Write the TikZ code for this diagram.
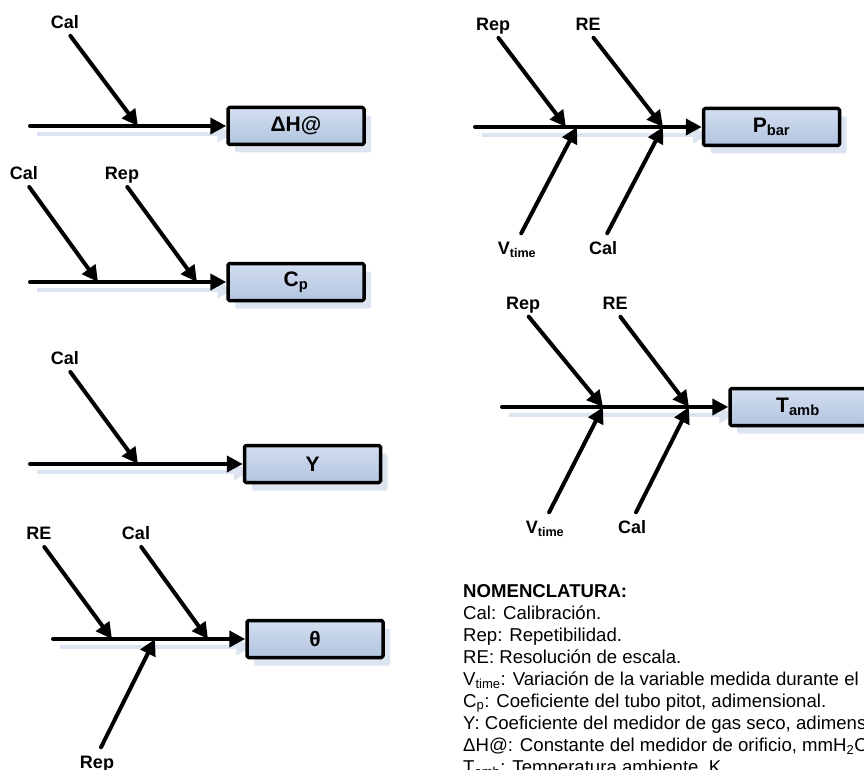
\documentclass[tikz,border=0pt]{standalone}
\usepackage{fontspec}
\setmainfont{Liberation Sans}
\usetikzlibrary{arrows.meta,shadows,backgrounds}

\definecolor{boxtop}{HTML}{D3DEF0}
\definecolor{boxbot}{HTML}{B2C4E0}
\definecolor{boxshade}{HTML}{DCE4F1}

\tikzset{
  effect/.style={draw=black, line width=3.5pt, rounded corners=1.5pt,
    minimum width=136pt, minimum height=37pt, inner sep=0pt,
    top color=boxtop, bottom color=boxbot,
    font=\fontsize{21}{24}\selectfont\bfseries,
    drop shadow={shadow xshift=7pt, shadow yshift=-8pt, fill=boxshade, opacity=1}},
  cause/.style={font=\fontsize{18}{22}\selectfont\bfseries, inner sep=0pt,
    text height=13pt, text depth=0pt},
  spine/.style={line width=4pt, -{Triangle[length=16pt,width=16pt]}},
  spineshade/.style={spine, color=boxshade},
  branch/.style={line width=4pt, shorten <=9pt, -{Triangle[length=16pt,width=16pt]}},
  nomen/.style={anchor=base west, inner sep=0pt, font=\fontsize{18.6}{22}\selectfont}
}

\begin{document}
\begin{tikzpicture}[line cap=round, line join=round, x=1pt, y=-1pt]
  \clip (0,0) rectangle (864,770);

  % Delta H@
  \node[effect] (dH) at (296,126) {ΔH@};
  \coordinate (dHs) at (30,126);
  \coordinate (dHa) at (138,126);
  \node[cause] (dHcal) at (65,22) {Cal};
  \draw[spine] (dHs) -- (dH);
  \draw[branch] (dHcal.south) -- (dHa);

  % Cp
  \node[effect] (cp) at (296,282) {C\textsubscript{p}};
  \coordinate (cps) at (30,282);
  \coordinate (cpa) at (98,282);
  \coordinate (cpb) at (197,282);
  \node[cause] (cpcal) at (24,173) {Cal};
  \node[cause] (cprep) at (122,173) {Rep};
  \draw[spine] (cps) -- (cp);
  \draw[branch] (cpcal.south) -- (cpa);
  \draw[branch] (cprep.south) -- (cpb);

  % Y
  \node[effect] (yy) at (312.5,464) {Y};
  \coordinate (yys) at (30,464);
  \coordinate (yya) at (138,464);
  \node[cause] (yycal) at (65,358) {Cal};
  \draw[spine] (yys) -- (yy);
  \draw[branch] (yycal.south) -- (yya);

  % theta
  \node[effect] (th) at (315,639) {θ};
  \coordinate (ths) at (53,639);
  \coordinate (tha) at (112,639);
  \coordinate (thb) at (208,639);
  \coordinate (thc) at (155,639);
  \node[cause] (thre) at (39,533) {RE};
  \node[cause] (thcal) at (136,533) {Cal};
  \node[cause] (threp) at (97,762) {Rep};
  \draw[spine] (ths) -- (th);
  \draw[branch] (thre.south) -- (tha);
  \draw[branch] (thcal.south) -- (thb);
  \draw[branch] (threp.north) -- (thc);

  % Pbar
  \node[effect] (pb) at (771.5,127) {P\textsubscript{bar}};
  \coordinate (pbs) at (475,127);
  \coordinate (pba) at (566,127);
  \coordinate (pbb) at (663,127);
  \coordinate (pbc) at (577,127);
  \node[cause] (pbrep) at (493,24) {Rep};
  \node[cause] (pbre) at (588,24) {RE};
  \node[cause] (pbvt) at (517,248) {V\textsubscript{time}};
  \node[cause] (pbcal) at (603,248) {Cal};
  \draw[spine] (pbs) -- (pb);
  \draw[branch] (pbrep.south) -- (pba);
  \draw[branch] (pbre.south) -- (pbb);
  \draw[branch] (pbvt.north) -- (pbc);
  \draw[branch] (pbcal.north) -- (pbb);

  % Tamb
  \node[effect] (ta) at (798,407) {T\textsubscript{amb}};
  \coordinate (tas) at (502,407);
  \coordinate (taa) at (603,407);
  \coordinate (tab) at (689,407);
  \node[cause] (tarep) at (523,303) {Rep};
  \node[cause] (tare) at (615,303) {RE};
  \node[cause] (tavt) at (545,527) {V\textsubscript{time}};
  \node[cause] (tacal) at (632,527) {Cal};
  \draw[spine] (tas) -- (ta);
  \draw[branch] (tarep.south) -- (taa);
  \draw[branch] (tare.south) -- (tab);
  \draw[branch] (tavt.north) -- (taa);
  \draw[branch] (tacal.north) -- (tab);

  % shadows of the spines
  \begin{scope}[on background layer]
    \draw[spineshade] ([shift={(7,8)}]dHs) -- ([shift={(7,8)}]dH.west);
    \draw[spineshade] ([shift={(7,8)}]cps) -- ([shift={(7,8)}]cp.west);
    \draw[spineshade] ([shift={(7,8)}]yys) -- ([shift={(7,8)}]yy.west);
    \draw[spineshade] ([shift={(7,8)}]ths) -- ([shift={(7,8)}]th.west);
    \draw[spineshade] ([shift={(7,8)}]pbs) -- ([shift={(7,8)}]pb.west);
    \draw[spineshade] ([shift={(7,8)}]tas) -- ([shift={(7,8)}]ta.west);
  \end{scope}

  % nomenclatura
  \node[nomen, font=\fontsize{18.6}{22}\selectfont\bfseries] (nomhead) at (463,597) {NOMENCLATURA:};
  \node[nomen] (nomcal) at (463,619) {Cal: Calibración.};
  \node[nomen] (nomrep) at (463,641) {Rep: Repetibilidad.};
  \node[nomen] (nomre) at (463,663) {RE: Resolución de escala.};
  \node[nomen] (nomvt) at (463,685) {V\textsubscript{time}: Variación de la variable medida durante el};
  \node[nomen] (nomcp) at (463,707) {C\textsubscript{p}: Coeficiente del tubo pitot, adimensional.};
  \node[nomen] (nomy) at (463,729) {Y: Coeficiente del medidor de gas seco, adimensional.};
  \node[nomen] (nomdh) at (463,751) {ΔH@: Constante del medidor de orificio, mmH\textsubscript{2}O.};
  \node[nomen] (nomta) at (463,773) {T\textsubscript{amb}: Temperatura ambiente, K.};
\end{tikzpicture}
\end{document}
